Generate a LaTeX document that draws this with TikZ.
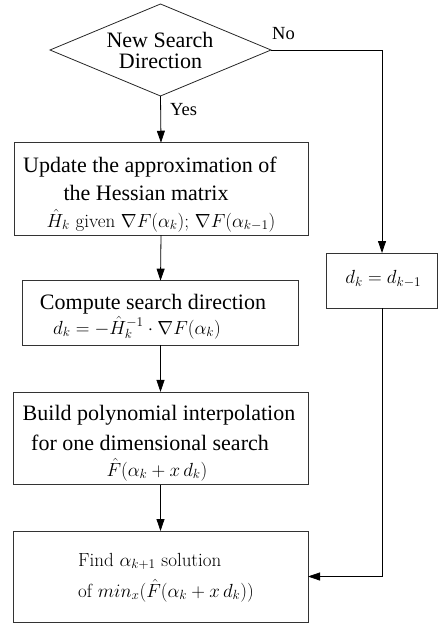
\RequirePackage{fix-cm}
\documentclass[tikz,border=0pt]{standalone}
\usepackage{fontspec}
\newfontfamily\tms{Liberation Serif}
\usetikzlibrary{shapes.geometric,arrows.meta}
\tikzset{
  box/.style={draw=black!80, line width=0.8pt, rectangle, inner sep=0pt, outer sep=0pt},
  dia/.style={draw=black!85, line width=0.8pt, diamond, inner sep=0pt, outer sep=0pt},
  conn/.style={draw=black, line width=0.8pt, -{Triangle[length=12pt,width=8pt]}},
  tt/.style={font=\tms\fontsize{22}{26}\selectfont, inner sep=0pt, anchor=base},
  mt/.style={font=\fontsize{19}{23}\selectfont, inner sep=0pt, anchor=base},
  lab/.style={font=\tms\fontsize{18.5}{22}\selectfont, inner sep=0pt, anchor=base west}
}
\begin{document}
\begin{tikzpicture}[x=1pt,y=-1pt]
\useasboundingbox (0,0) rectangle (438,623);
% shapes
\node[dia, minimum width=221pt, minimum height=92pt] (d) at (160.5,50) {};
\node[box, minimum width=294pt, minimum height=92.3pt] (b1) at (161,188.9) {};
\node[box, minimum width=275.3pt, minimum height=64.3pt] (b2) at (160.5,312.8) {};
\node[box, minimum width=295pt, minimum height=92.7pt] (b3) at (160.5,438.3) {};
\node[box, minimum width=295pt, minimum height=91pt] (b4) at (160.5,576.5) {};
\node[box, minimum width=110.5pt, minimum height=55pt] (db) at (382,280.5) {};
% texts
\node[tt] (t0a) at (160,48) {New Search};
\node[tt] (t0b) at (160.5,69) {Direction};
\node[tt] (t1a) at (150,172) {Update the approximation of};
\node[tt] (t1b) at (146,200) {the Hessian matrix};
\node[mt] (t1c) at (161,227) {$\hat H_k$ given $\nabla F(\alpha_k)$; $\nabla F(\alpha_{k-1})$};
\node[tt] (t2a) at (153,309) {Compute search direction};
\node[mt] (t2b) at (137,334) {$d_k=-\hat H_k^{-1}\cdot\nabla F(\alpha_k)$};
\node[tt] (t3a) at (159,420) {Build polynomial interpolation};
\node[tt] (t3b) at (150,450) {for one dimensional search};
\node[mt] (t3c) at (157,476) {$\hat F(\alpha_k+x\,d_k)$};
\node[mt, anchor=base west] (t4a) at (78,566) {Find $\alpha_{k+1}$ solution};
\node[mt, anchor=base west] (t4b) at (78,597) {of $min_x\bigl(\hat F(\alpha_k+x\,d_k)\bigr)$};
\node[mt] (td) at (383.3,283.5) {$d_k=d_{k-1}$};
\node[lab] (yes) at (170,115) {Yes};
\node[lab] (no) at (272,40) {No};
% connectors
\draw[conn] (d.south) -- (b1.north);
\draw[conn] (b1.south) -- (b2.north);
\draw[conn] (b2.south) -- (b3.north);
\draw[conn] (b3.south) -- (b4.north);
\draw[conn] (d.east) -| (db.north);
\draw[conn] (db.south) |- (b4.east);
\end{tikzpicture}
\end{document}
